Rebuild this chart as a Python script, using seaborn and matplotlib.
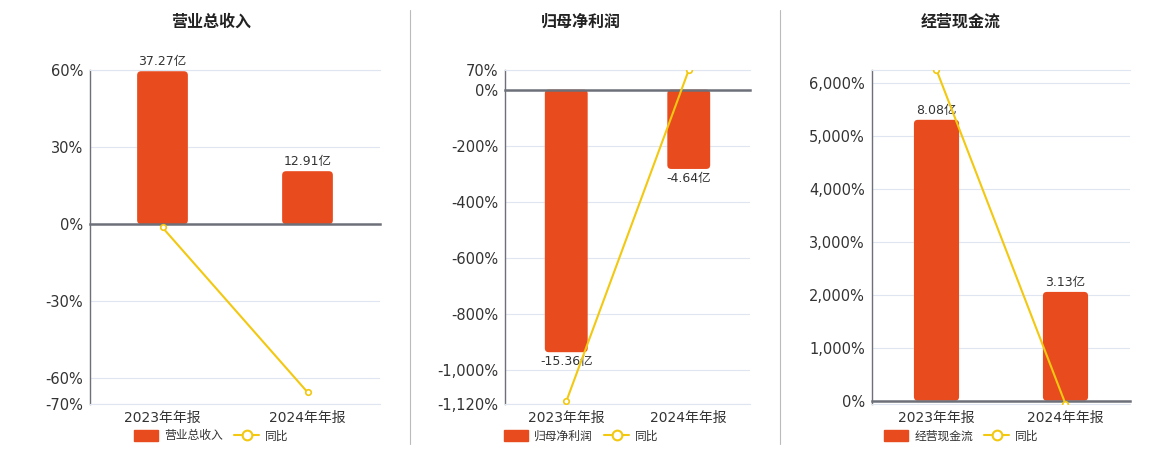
import matplotlib

matplotlib.use("Agg")  # headless
import matplotlib.pyplot as plt
import pandas as pd
import seaborn as sns
from matplotlib.lines import Line2D
from matplotlib.patches import FancyBboxPatch, Patch
from matplotlib.ticker import FixedFormatter, FixedLocator, FuncFormatter

# ---------------------------------------------------------------------------
# data
# ---------------------------------------------------------------------------
PERIODS = ["2023年年报", "2024年年报"]
TITLES = ["营业总收入", "归母净利润", "经营现金流"]

REVENUE = [37.27, 12.91]          # 亿
NET_PROFIT = [-15.36, -4.64]      # 亿
CASH_FLOW = [8.08, 3.13]          # 亿

REVENUE_YOY = [-1.3, -65.4]       # %
NET_PROFIT_YOY = [-1111.0, 69.8]  # %
CASH_FLOW_YOY = [6250.0, -61.3]   # %

REVENUE_TICKS = [60, 30, 0, -30, -60, -70]
NET_PROFIT_TICKS = [70, 0, -200, -400, -600, -800, -1000, -1120]
CASH_FLOW_TICKS = [0, 1000, 2000, 3000, 4000, 5000, 6000]

# ---------------------------------------------------------------------------
# layout / style
# ---------------------------------------------------------------------------
W, H = 1160, 450
BAR = "#e84c1e"
LINE = "#f2c811"
AXIS = "#6e7079"
GRID = "#e0e6f1"
TEXT = "#333333"

# (left, right) pixel edges of each plot area, shared top/bottom
PANEL_X = [(90, 380), (505, 750), (872, 1130)]
PLOT_TOP, PLOT_BOTTOM = 70, 404
TITLE_X = [211, 581, 961]
PCT_LIMITS = [(-70, 60), (-1120, 70), (-62, 6250)]
# percent-axis units per 亿 for the hidden bar axis
BAR_SCALE = [1.597, 60.9, 657.0]
CORNER_PX = 4

sns.set_theme(style="white")
plt.rcParams["font.family"] = ["DejaVu Sans", "Noto Sans CJK SC"]


def pct(v, _pos):
    return f"{v:,.0f}%"


def round_bars(ax, width_px, height_px):
    # swap the plain rectangles for rounded ones (echarts-like look)
    x0, x1 = ax.get_xlim()
    y0, y1 = ax.get_ylim()
    xpp = (x1 - x0) / width_px
    ypp = (y1 - y0) / height_px
    for p in list(ax.patches):
        x, y = p.get_xy()
        w, h = p.get_width(), p.get_height()
        if h < 0:
            y, h = y + h, -h
        fb = FancyBboxPatch((x, y), w, h,
                            boxstyle=f"round,pad=0,rounding_size={CORNER_PX * xpp}",
                            mutation_aspect=ypp / xpp,
                            facecolor=p.get_facecolor(), edgecolor="none",
                            zorder=p.get_zorder())
        p.set_visible(False)
        ax.add_patch(fb)


def draw_panel(fig, i, values, yoy, ticks):
    left, right = PANEL_X[i]
    rect = [left / W, 1 - PLOT_BOTTOM / H, (right - left) / W, (PLOT_BOTTOM - PLOT_TOP) / H]
    ax = fig.add_axes(rect)
    ax_b = ax.twinx()
    ax_l = ax.twinx()

    df = pd.DataFrame({"period": PERIODS, "value": values, "yoy": yoy})

    sns.barplot(data=df, x="period", y="value", ax=ax_b, color=BAR,
                saturation=1, width=0.35)
    ax_b.bar_label(ax_b.containers[0], labels=[f"{v:.2f}亿" for v in values],
                   padding=2, fontsize=9, color=TEXT)

    sns.pointplot(data=df, x="period", y="yoy", ax=ax_l, color=LINE,
                  markers="o", markersize=4, linewidth=1.5, errorbar=None)
    for ln in ax_l.lines:
        ln.set_markerfacecolor("white")
        ln.set_markeredgecolor(LINE)
        ln.set_markeredgewidth(1.2)

    lo, hi = PCT_LIMITS[i]
    ax.set_ylim(lo, hi)
    ax_l.set_ylim(lo, hi)
    ax_b.set_ylim(lo / BAR_SCALE[i], hi / BAR_SCALE[i])

    # x: boundary ticks on the zero line, category labels at the bottom
    ax.set_xlim(-0.5, 1.5)
    ax.xaxis.set_major_locator(FixedLocator([-0.5, 0.5, 1.5]))
    ax.xaxis.set_minor_locator(FixedLocator([0, 1]))
    ax.xaxis.set_minor_formatter(FixedFormatter(PERIODS))
    ax.tick_params(axis="x", which="major", bottom=False, labelbottom=False)
    ax.tick_params(axis="x", which="minor", bottom=True, length=0, pad=5,
                   labelsize=10, labelcolor=TEXT, labelbottom=True)

    round_bars(ax_b, right - left, PLOT_BOTTOM - PLOT_TOP)

    # y: percent ticks with grid
    ax.yaxis.set_major_locator(FixedLocator(ticks))
    ax.yaxis.set_major_formatter(FuncFormatter(pct))
    ax.tick_params(axis="y", length=0, pad=5, labelsize=10.5, labelcolor=TEXT)
    ax.yaxis.grid(True, color=GRID, linewidth=0.8)
    ax.set_axisbelow(True)
    ax.spines["left"].set_color(AXIS)
    ax.spines["left"].set_linewidth(1.0)
    ax.spines["right"].set_visible(False)
    for s in ("top", "bottom"):
        ax.spines[s].set_color(GRID)
        ax.spines[s].set_linewidth(0.8)
    ax.set_xlabel("")
    ax.set_ylabel("")

    # bar axis: only the zero line with its ticks
    for s in ("top", "left", "right"):
        ax_b.spines[s].set_visible(False)
    ax_b.spines["bottom"].set_position(("data", 0))
    ax_b.spines["bottom"].set_color(AXIS)
    ax_b.spines["bottom"].set_linewidth(1.8)
    ax_b.spines["bottom"].set_zorder(5)
    ax_b.yaxis.set_visible(False)
    ax_b.tick_params(axis="x", which="major", bottom=True, length=4, width=1,
                     color=AXIS, labelbottom=False)
    ax_b.tick_params(axis="x", which="minor", bottom=False, labelbottom=False)
    ax_b.set_xlabel("")

    ax_l.axis("off")
    ax_l.set_zorder(ax_b.get_zorder() + 1)

    fig.text(TITLE_X[i] / W, 1 - 22 / H, TITLES[i], ha="center", va="center",
             fontsize=11.5, fontweight="bold", color="#222222")

    handles = [
        Patch(facecolor=BAR, edgecolor=BAR),
        Line2D([0], [0], color=LINE, lw=1.5, marker="o", markersize=7,
               markerfacecolor="white", markeredgecolor=LINE, markeredgewidth=1.5),
    ]
    fig.legend(handles=handles, labels=[TITLES[i], "同比"], loc="center",
               bbox_to_anchor=(TITLE_X[i] / W, 1 - 436 / H), ncol=2,
               frameon=False, fontsize=8.5, handlelength=2.1, handleheight=1.0,
               columnspacing=0.95, handletextpad=0.5, labelcolor=TEXT,
               borderpad=0.2)


def main():
    fig = plt.figure(figsize=(W / 100, H / 100), dpi=100)

    draw_panel(fig, 0, REVENUE, REVENUE_YOY, REVENUE_TICKS)
    draw_panel(fig, 1, NET_PROFIT, NET_PROFIT_YOY, NET_PROFIT_TICKS)
    draw_panel(fig, 2, CASH_FLOW, CASH_FLOW_YOY, CASH_FLOW_TICKS)

    # thin separators between the three panels
    for x in (410, 780):
        fig.add_artist(Line2D([x / W, x / W], [1 - 10 / H, 1 - 444 / H],
                              color="#bbbbbb", lw=0.8))

    fig.savefig("out.png", dpi=100)
    plt.close(fig)


if __name__ == "__main__":
    main()
